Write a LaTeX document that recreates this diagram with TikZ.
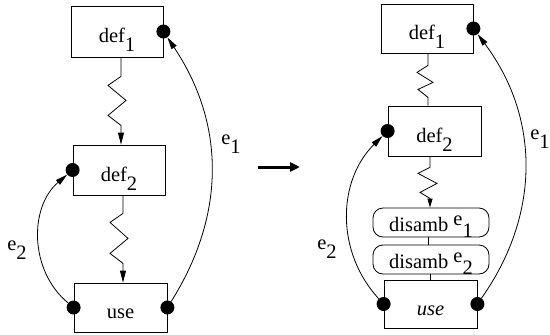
\documentclass[tikz,border=0pt]{standalone}
\usepackage{fontspec}
\setmainfont{Liberation Serif}
\newfontfamily\figfont{Liberation Serif}
\usetikzlibrary{arrows.meta,positioning}

\newcommand{\lo}[1]{\raisebox{-1ex}{#1}}

\begin{document}
\begin{tikzpicture}[x=1pt,y=1pt,>={Triangle[length=12pt,width=6pt]},
  font=\figfont\fontsize{20.5}{24}\selectfont,
  blk/.style={draw,line width=0.8pt,inner sep=0pt,text height=22pt,text depth=0pt},
  rblk/.style={blk,rounded corners=10pt,text height=17pt},
  dot/.style={circle,fill,inner sep=0pt,minimum size=14pt},
  lnk/.style={line width=0.8pt}]
\useasboundingbox (0,0) rectangle (550,-335);
% left: before
\node[blk,minimum width=92pt,minimum height=51pt] (l1) at (117,-31.5) {def\lo{1}};
\node[blk,minimum width=92pt,minimum height=50pt] (l2) at (119,-170) {def\lo{2}};
\node[blk,minimum width=93pt,minimum height=49pt] (l3) at (120.5,-307.5) {use};
\node[dot] (l1o) at (l1.east) {};
\node[dot] (l2i) at (l2.west) {};
\node[dot] (l3i) at (l3.west) {};
\node[dot] (l3o) at (l3.east) {};
\draw[lnk,->] ([xshift=4pt]l1.south) -- ++(0,-19) -- ++(-13,-9) -- ++(18,-15) -- ++(-18,-15) -- ++(13,-10) -- ([xshift=2pt]l2.north);
\draw[lnk,->] ([xshift=4pt]l2.south) -- ++(0,-18) -- ++(-13,-9) -- ++(18,-16) -- ++(-18,-15) -- ++(13,-10) -- ([xshift=2.5pt]l3.north);
\draw[lnk,->] (l3i) to[bend left=50] (l2i);
\draw[lnk,->] (l3o) to[bend right=33] (l1o);
\node (le1) at (231,-144) {e\lo{1}};
\node (le2) at (17,-250) {e\lo{2}};
% middle arrow
\coordinate (m1) at (258,-167);
\coordinate (m2) at (300,-167);
\draw[line width=3pt,-{Triangle[length=10pt,width=9pt]}] (m1) -- (m2);
% right: after
\node[blk,minimum width=92pt,minimum height=49pt] (r1) at (427,-28.5) {def\lo{1}};
\node[blk,minimum width=93pt,minimum height=50pt] (r2) at (434.5,-131) {def\lo{2}};
\node[rblk,minimum width=116pt,minimum height=29pt] (d1) at (431,-222.5) {disamb \raisebox{.6ex}{e}\raisebox{-.7ex}{1}};
\node[rblk,minimum width=116pt,minimum height=29pt] (d2) at (431,-259.5) {disamb \raisebox{.6ex}{e}\raisebox{-.7ex}{2}};
\node[blk,minimum width=93pt,minimum height=48pt] (r3) at (430.5,-304) {\itshape use};
\node[dot] (r1o) at (r1.east) {};
\node[dot] (r2i) at (r2.west) {};
\node[dot] (r3i) at (r3.west) {};
\node[dot] (r3o) at (r3.east) {};
\draw[lnk] ([xshift=1pt]r1.south) -- ++(0,-12) -- ++(-11,-7) -- ++(16,-10) -- ++(-15,-7) -- ++(10,-8) -- ([xshift=-6.5pt]r2.north);
\draw[lnk,-{Triangle[length=9pt,width=5pt]}] ([xshift=-4.5pt]r2.south) -- ++(0,-11) -- ++(-12,-6) -- ++(19,-10) -- ++(-17,-9) -- ++(10,-6) -- ([xshift=-1pt]d1.north);
\draw[lnk] ([xshift=-3pt]d1.south) -- ([xshift=-3pt]d2.north);
\draw[lnk] ([xshift=-1pt]d2.south) -- ([xshift=-0.5pt]r3.north);
\draw[lnk,->] (r3i) to[bend left=44] (r2i);
\draw[lnk,->] (r3o) to[bend right=36] (r1o);
\node (re1) at (540,-139) {e\lo{1}};
\node (re2) at (327,-249) {e\lo{2}};
\end{tikzpicture}
\end{document}
